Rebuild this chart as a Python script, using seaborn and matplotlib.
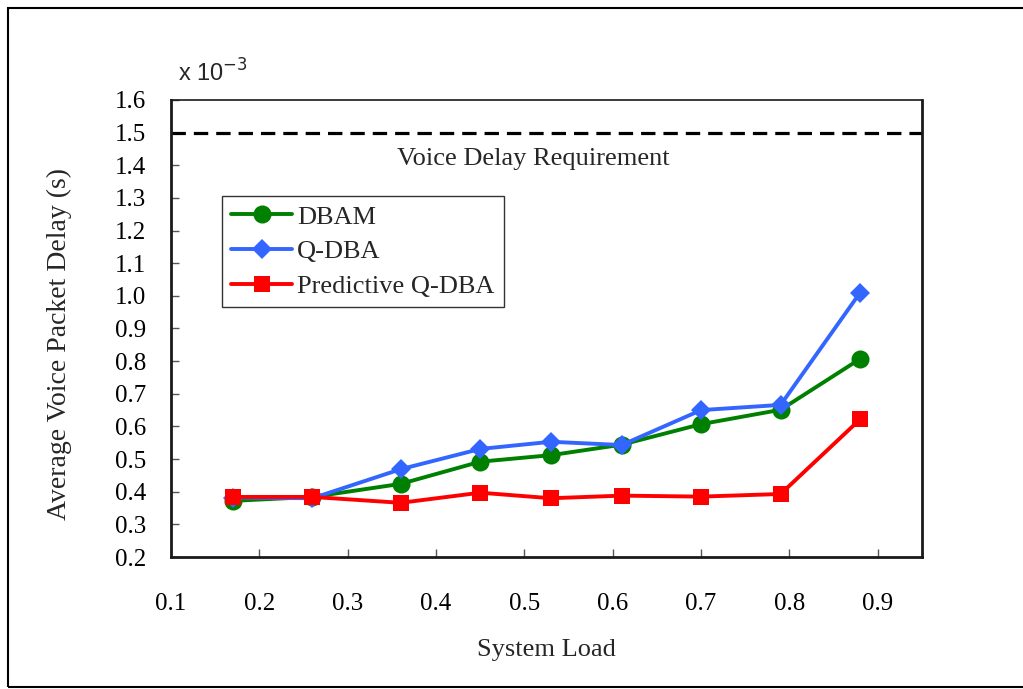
import matplotlib
matplotlib.use("Agg")
import matplotlib.pyplot as plt
from matplotlib.patches import Rectangle
import pandas as pd
import seaborn as sns

# System load levels and average voice packet delay (x 1e-3 s)
system_load = [0.17, 0.26, 0.36, 0.45, 0.53, 0.61, 0.70, 0.79, 0.88]
delay_dbam = [0.372, 0.384, 0.424, 0.492, 0.512, 0.544, 0.607, 0.651, 0.807]
delay_qdba = [0.382, 0.380, 0.469, 0.531, 0.553, 0.543, 0.650, 0.666, 1.010]
delay_pqdba = [0.384, 0.384, 0.366, 0.397, 0.380, 0.388, 0.385, 0.393, 0.622]
series_names = ["DBAM", "Q-DBA", "Predictive Q-DBA"]
requirement = 1.5
requirement_label = "Voice Delay Requirement"
x_ticks = [0.1, 0.2, 0.3, 0.4, 0.5, 0.6, 0.7, 0.8, 0.9]
y_ticks = [0.2, 0.3, 0.4, 0.5, 0.6, 0.7, 0.8, 0.9, 1.0, 1.1, 1.2, 1.3, 1.4, 1.5, 1.6]

sns.set_theme(style="white")
plt.rcParams["font.family"] = ["Liberation Serif", "DejaVu Serif"]

fig = plt.figure(figsize=(10.23, 6.89), dpi=100)
ax = fig.add_axes([171 / 1023, 132 / 689, 751 / 1023, 457 / 689])

df = pd.DataFrame({
    "load": system_load * 3,
    "delay": delay_dbam + delay_qdba + delay_pqdba,
    "scheme": sum([[n] * len(system_load) for n in series_names], []),
})

styles = {
    "DBAM": dict(color="#008000", marker="o", markersize=13),
    "Q-DBA": dict(color="#3366FF", marker="D", markersize=10.5),
    "Predictive Q-DBA": dict(color="#FF0000", marker="s", markersize=12),
}
for name in series_names:
    sub = df[df["scheme"] == name]
    st = styles[name]
    sns.lineplot(data=sub, x="load", y="delay", ax=ax, label=name,
                 color=st["color"], marker=st["marker"],
                 markersize=st["markersize"], markeredgewidth=0,
                 linewidth=2.8, zorder=3)

# Delay bound for voice traffic
ax.axhline(requirement, color="black", linewidth=2.3, dashes=(4.5, 2.5), zorder=2)
ax.text(0.51, 1.42, requirement_label, ha="center", va="center", fontsize=19)

ax.set_xlim(0.1, 0.95)
ax.set_ylim(0.2, 1.6)
ax.set_xticks(x_ticks)
ax.set_xticklabels([f"{v:.1f}" for v in x_ticks])
ax.set_yticks(y_ticks)
ax.set_yticklabels([f"{v:.1f}" for v in y_ticks])
ax.tick_params(axis="both", direction="in", length=6, width=1.0, color="#555555",
               labelsize=18, labelcolor="black")
ax.tick_params(axis="x", pad=26, bottom=True)
ax.tick_params(axis="y", pad=18, left=True)

for side in ["left", "bottom", "right"]:
    ax.spines[side].set_linewidth(2.0)
    ax.spines[side].set_color("#1a1a1a")
ax.spines["top"].set_linewidth(1.2)
ax.spines["top"].set_color("#1a1a1a")

ax.set_xlabel("System Load", fontsize=19)
ax.set_ylabel("Average Voice Packet Delay (s)", fontsize=20)
ax.xaxis.set_label_coords(0.5, -0.18)
ax.yaxis.set_label_coords(-0.132, 0.465)

ax.text(0.009, 1.04, r"x 10$^{-3}$", transform=ax.transAxes, fontsize=17,
        family=["Liberation Sans", "DejaVu Sans"], ha="left", va="baseline")

leg = ax.legend(loc="upper left", bbox_to_anchor=(0.068, 0.79), borderaxespad=0,
                fontsize=19, frameon=True, fancybox=False, edgecolor="black",
                handlelength=2.3, handletextpad=0.2, labelspacing=0.42,
                borderpad=0.35)
leg.get_frame().set_linewidth(1.0)

# Outer frame around the figure
fig.patches.append(Rectangle((8 / 1023, 2 / 689), 1.05, 679 / 689,
                             transform=fig.transFigure, fill=False,
                             edgecolor="black", linewidth=1.5, clip_on=False))

fig.savefig("out.png", dpi=100, facecolor="white")
